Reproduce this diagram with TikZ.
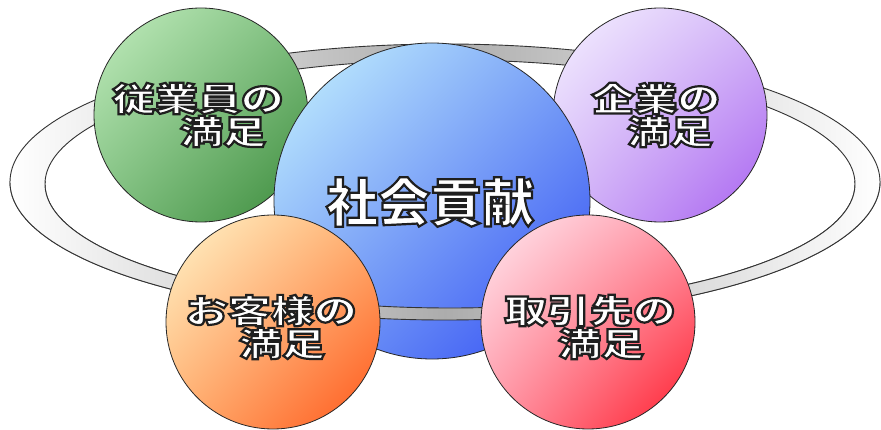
\documentclass[tikz,border=0pt]{standalone}
\usepackage{fontspec}
\usetikzlibrary{shadings}
\newfontfamily\jpfont[FakeStretch=1.3]{Noto Sans CJK JP}
\newfontfamily\jpbig{Noto Sans CJK JP}
\newcommand\olon{\special{pdf:literal direct 2 Tr 2.2 w 0.12 0.12 0.12 RG}}
\definecolor{gA}{HTML}{C4EEC0}\definecolor{gB}{HTML}{80C080}\definecolor{gC}{HTML}{3A8A3A}
\definecolor{pA}{HTML}{F6F2FF}\definecolor{pB}{HTML}{D4B8F8}\definecolor{pC}{HTML}{A860F0}
\definecolor{bA}{HTML}{C8F6FF}\definecolor{bB}{HTML}{78A0F6}\definecolor{bC}{HTML}{2E48F4}
\definecolor{oA}{HTML}{FFF6CC}\definecolor{oB}{HTML}{FFB070}\definecolor{oC}{HTML}{FF5418}
\definecolor{rA}{HTML}{FFEAF2}\definecolor{rB}{HTML}{FF98A8}\definecolor{rC}{HTML}{FF1A2A}
\begin{document}
\begin{tikzpicture}[x=1pt,y=-1pt,
  ball/.style={circle, draw=black!85, line width=0.8pt, minimum size=214pt, inner sep=0pt},
  lbl/.style={text=white, font=\jpfont\bfseries\fontsize{33}{33}\selectfont, align=center, inner sep=0pt},
  big/.style={text=white, font=\jpbig\bfseries\fontsize{52}{52}\selectfont, inner sep=0pt},
  ringband/.style={even odd rule, draw=black!80, line width=0.9pt, left color=white, right color=white, middle color=gray!65}]
\useasboundingbox (0,0) rectangle (881,430);
\fill[white] (0,0) rectangle (881,430);
% ring (back)
\path[ringband] (445,182) ellipse [x radius=435, y radius=138] (450,184) ellipse [x radius=405, y radius=124];
% back balls
\node[ball, upper left=gA, upper right=gB, lower left=gB, lower right=gC] (emp) at (201,115) {};
\node[ball, upper left=pA, upper right=pB, lower left=pB, lower right=pC] (corp) at (660,115) {};
% centre
\node[ball, minimum size=316pt, upper left=bA, upper right=bB, lower left=bB, lower right=bC] (soc) at (432,201) {};
% ring (front)
\begin{scope}
\clip (0,182) rectangle (881,430);
\path[ringband] (445,182) ellipse [x radius=435, y radius=138] (450,184) ellipse [x radius=405, y radius=124];
\end{scope}
% front balls
\node[ball, upper left=oA, upper right=oB, lower left=oB, lower right=oC] (cust) at (273,322) {};
\node[ball, upper left=rA, upper right=rB, lower left=rB, lower right=rC] (part) at (588,322) {};
% labels
\node[big] (socl) at (430,202) {\olon 社会貢献};
\node[lbl] (empl) at (198,115) {\olon 従業員の\\\hspace*{50pt}\olon 満足};
\node[lbl] (corpl) at (656,115) {\olon 企業の\\\hspace*{28pt}\olon 満足};
\node[lbl] (custl) at (271,327) {\olon お客様の\\\hspace*{22pt}\olon 満足};
\node[lbl] (partl) at (590,327) {\olon 取引先の\\\hspace*{22pt}\olon 満足};
\end{tikzpicture}
\end{document}
